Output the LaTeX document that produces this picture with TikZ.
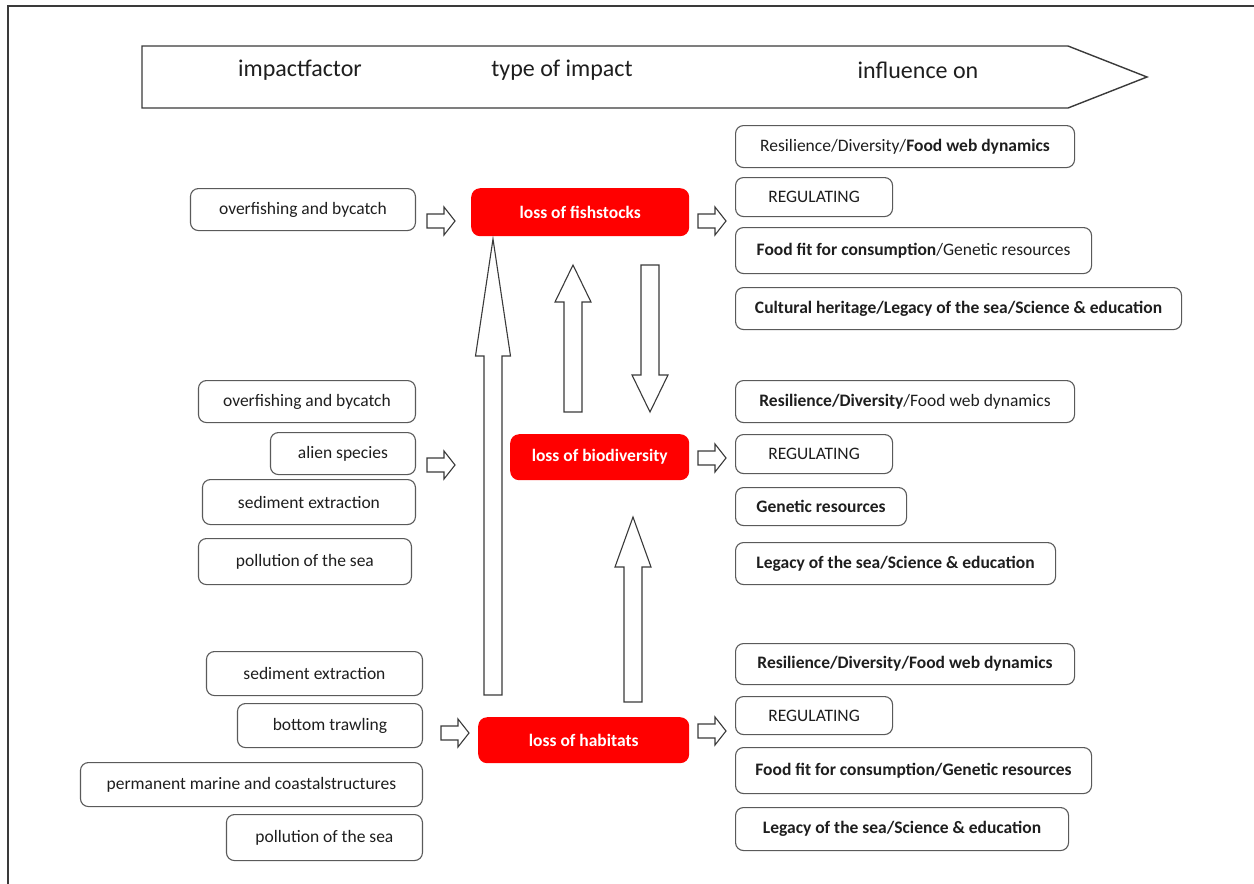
\documentclass[tikz,border=0pt]{standalone}
\usepackage{fontspec}
\setmainfont{Carlito}
\usetikzlibrary{calc}
\definecolor{lossred}{HTML}{FF0000}
\definecolor{boxline}{HTML}{5A5A5A}
\definecolor{arrowline}{HTML}{3A3A3A}
\definecolor{labeltext}{HTML}{1E1E1E}
\tikzset{factorbox/.style={draw=boxline, line width=1.1pt, rounded corners=8pt, inner sep=0pt,
      text=labeltext, font=\fontsize{17.5}{20}\selectfont},
    servicebox/.style={factorbox, anchor=north west},
    lossbox/.style={fill=lossred, rounded corners=9pt, inner sep=0pt, anchor=north west,
      text=white, font=\fontsize{17.5}{20}\selectfont\bfseries},
    headtext/.style={text=labeltext, font=\fontsize{24}{28}\selectfont},
    headline/.style={draw=arrowline, line width=1.4pt, fill=white},
    blockarrow/.style={draw=arrowline, fill=white, line width=1.1pt},
    }
\newcommand{\hollowarrow}[5]{%
  \coordinate (hb) at ($(#2)!#5!(#1)$);
  \draw[blockarrow] ($(#1)!#3!90:(#2)$) -- ($(hb)!#3!90:(#2)$) -- ($(hb)!#4!90:(#2)$) -- (#2)
    -- ($(hb)!#4!-90:(#2)$) -- ($(hb)!#3!-90:(#2)$) -- ($(#1)!#3!-90:(#2)$) -- cycle;}

\begin{document}
\begin{tikzpicture}[x=1pt, y=-1pt]
\useasboundingbox (0,0) rectangle (1254,884);
\draw[arrowline, line width=1.4pt] (8,884) -- (8,6) -- (1254,6);

\draw[headline] (142,46) -- (1068,46) -- (1147,77) -- (1068,108) -- (142,108) -- cycle;
\node[headtext] (hfactor) at (300,70) {impactfactor};
\node[headtext] (htype) at (562,70) {type of impact};
\node[headtext] (hinfluence) at (918,70) {influence on};

\node[lossbox, minimum width=218pt, minimum height=48pt] (fish) at (471,188) {loss of fishstocks};
\node[lossbox, minimum width=179pt, minimum height=46pt] (biodiv) at (510,434) {loss of biodiversity};
\node[lossbox, minimum width=211pt, minimum height=46pt] (habitat) at (478,717) {loss of habitats};

\node[factorbox, anchor=north east, minimum width=225pt, minimum height=42pt] (fo1) at (416,188) {overfishing and bycatch};

\node[factorbox, anchor=north east, minimum width=217pt, minimum height=42pt] (bo1) at (416,380) {overfishing and bycatch};
\node[factorbox, anchor=north east, minimum width=145pt, minimum height=42pt] (bo2) at (416,432) {alien species};
\node[factorbox, anchor=north east, minimum width=213pt, minimum height=45pt] (bo3) at (416,479) {sediment extraction};
\node[factorbox, anchor=north east, minimum width=213pt, minimum height=46pt] (bo4) at (412,538) {pollution of the sea};

\node[factorbox, anchor=north east, minimum width=216pt, minimum height=44pt] (ho1) at (423,651) {sediment extraction};
\node[factorbox, anchor=north east, minimum width=185pt, minimum height=44pt] (ho2) at (423,703) {bottom trawling};
\node[factorbox, anchor=north east, minimum width=342pt, minimum height=44pt] (ho3) at (423,762) {permanent marine and coastalstructures};
\node[factorbox, anchor=north east, minimum width=196pt, minimum height=46pt] (ho4) at (423,814) {pollution of the sea};

\node[servicebox, minimum width=339pt, minimum height=42pt] (fs1) at (735,125) {Resilience/Diversity/\textbf{Food web dynamics}};
\node[servicebox, minimum width=157pt, minimum height=39pt] (fs2) at (735,177) {REGULATING};
\node[servicebox, minimum width=356pt, minimum height=46pt] (fs3) at (735,227) {\textbf{Food fit for consumption}/Genetic resources};
\node[servicebox, minimum width=446pt, minimum height=42pt] (fs4) at (735,287) {\textbf{Cultural heritage/Legacy of the sea/Science \& education}};

\node[servicebox, minimum width=339pt, minimum height=42pt] (bs1) at (735,380) {\textbf{Resilience/Diversity}/Food web dynamics};
\node[servicebox, minimum width=157pt, minimum height=39pt] (bs2) at (735,434) {REGULATING};
\node[servicebox, minimum width=171pt, minimum height=38pt] (bs3) at (735,487) {\textbf{Genetic resources}};
\node[servicebox, minimum width=320pt, minimum height=42pt] (bs4) at (735,542) {\textbf{Legacy of the sea/Science \& education}};

\node[servicebox, minimum width=339pt, minimum height=41pt] (hs1) at (735,643) {\textbf{Resilience/Diversity/Food web dynamics}};
\node[servicebox, minimum width=157pt, minimum height=38pt] (hs2) at (735,696) {REGULATING};
\node[servicebox, minimum width=356pt, minimum height=46pt] (hs3) at (735,747) {\textbf{Food fit for consumption/Genetic resources}};
\node[servicebox, minimum width=333pt, minimum height=43pt] (hs4) at (735,807) {\textbf{Legacy of the sea/Science \& education}};

\coordinate (fishin) at (427,221);   \coordinate (fishin') at (455,221);
\coordinate (fishout) at (698,221);  \coordinate (fishout') at (726,221);
\coordinate (bioin) at (427,465);    \coordinate (bioin') at (455,465);
\coordinate (bioout) at (698,458);   \coordinate (bioout') at (726,458);
\coordinate (habin) at (441,733);    \coordinate (habin') at (469,733);
\coordinate (habout) at (698,731);   \coordinate (habout') at (726,731);
\foreach \a in {fishin,fishout,bioin,bioout,habin,habout}
  {\hollowarrow{\a}{\a'}{7pt}{14pt}{11pt}}

\coordinate (habtofish) at (493,695);  \coordinate (habtofish') at (493,239);
\coordinate (biotofish) at (573,412);  \coordinate (biotofish') at (573,265);
\coordinate (fishtobio) at (650,265);  \coordinate (fishtobio') at (650,412);
\coordinate (habtobio) at (633,702);   \coordinate (habtobio') at (633,517);
\hollowarrow{habtofish}{habtofish'}{9pt}{17.5pt}{117pt}
\hollowarrow{biotofish}{biotofish'}{9pt}{18pt}{37pt}
\hollowarrow{fishtobio}{fishtobio'}{9pt}{18pt}{37pt}
\hollowarrow{habtobio}{habtobio'}{9pt}{18pt}{50pt}
\end{tikzpicture}
\end{document}
